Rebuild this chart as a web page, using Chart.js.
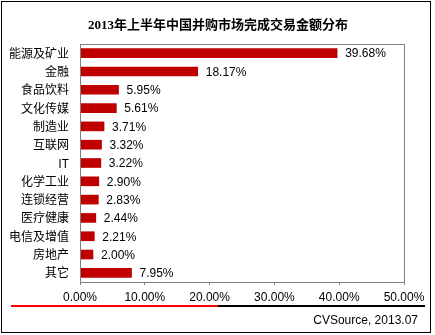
<!DOCTYPE html>
<html>
<head>
<meta charset="utf-8">
<script src="https://cdn.jsdelivr.net/npm/chart.js@4/dist/chart.umd.min.js"></script>
<style>
html,body{margin:0;padding:0;background:#fff;}
#wrap{width:435px;height:335px;position:relative;}
</style>
</head>
<body>
<div id="wrap"><canvas id="c" width="435" height="335"></canvas></div>
<script>
const titleText = '2013年上半年中国并购市场完成交易金额分布';
const sourceText = 'CVSource, 2013.07';
const categories = ['能源及矿业','金融','食品饮料','文化传媒','制造业','互联网','IT','化学工业','连锁经营','医疗健康','电信及增值','房地产','其它'];
const shares = [39.68, 18.17, 5.95, 5.61, 3.71, 3.32, 3.22, 2.90, 2.83, 2.44, 2.21, 2.00, 7.95];
const xTicks = [0, 10, 20, 30, 40, 50];

const latin = "'Liberation Sans', Arial, 'Noto Sans CJK SC', sans-serif";
const cjk = "'Noto Sans CJK SC', 'Liberation Sans', sans-serif";

const decor = {
  id: 'decor',
  beforeDraw(chart) {
    const ctx = chart.ctx;
    ctx.save();
    ctx.fillStyle = '#fff';
    ctx.fillRect(0, 0, chart.width, chart.height);
    ctx.restore();
  },
  afterDatasetsDraw(chart) {
    const ctx = chart.ctx;
    const a = chart.chartArea;
    ctx.save();
    // plot frame
    ctx.strokeStyle = '#808080';
    ctx.lineWidth = 1;
    ctx.strokeRect(Math.round(a.left) + 0.5, Math.round(a.top) + 0.5, Math.round(a.right - a.left), Math.round(a.bottom - a.top));
    // value labels
    const meta = chart.getDatasetMeta(0);
    ctx.fillStyle = '#000';
    ctx.font = '12px ' + latin;
    ctx.textAlign = 'left';
    ctx.textBaseline = 'middle';
    meta.data.forEach((bar, i) => {
      ctx.fillText(shares[i].toFixed(2) + '%', bar.x + 8, bar.y + 1);
    });
    // title
    ctx.font = "bold 13px 'Liberation Serif', 'Noto Sans CJK SC', serif";
    ctx.textAlign = 'center';
    ctx.fillText(titleText, 218, 26);
    // separator lines
    ctx.fillStyle = '#ff0000';
    ctx.fillRect(11, 305, 207, 2);
    ctx.fillStyle = '#000';
    ctx.fillRect(218, 305, 207, 2);
    // source
    ctx.font = '12px ' + latin;
    ctx.textAlign = 'right';
    ctx.fillText(sourceText, 418, 321);
    // outer border
    ctx.strokeStyle = '#000';
    ctx.strokeRect(1.5, 1.5, 429, 331);
    ctx.restore();
  }
};

new Chart(document.getElementById('c'), {
  type: 'bar',
  data: {
    labels: categories,
    datasets: [{
      data: shares,
      backgroundColor: '#C00000',
      borderWidth: 0,
      barThickness: 9
    }]
  },
  options: {
    indexAxis: 'y',
    responsive: false,
    animation: false,
    devicePixelRatio: 1,
    layout: { padding: { left: 0, top: 44, right: 31, bottom: 0 } },
    plugins: { legend: { display: false }, tooltip: { enabled: false }, title: { display: false } },
    scales: {
      x: {
        min: 0, max: 50,
        afterFit(s) { s.height = 53; },
        afterBuildTicks(s) { s.ticks = xTicks.map(v => ({ value: v })); },
        grid: { drawOnChartArea: false, drawTicks: true, tickLength: 3, color: '#808080' },
        border: { color: '#808080' },
        ticks: {
          padding: 5,
          color: '#000',
          font: { size: 12, family: latin },
          maxRotation: 0,
          callback: v => Number(v).toFixed(2) + '%'
        }
      },
      y: {
        afterFit(s) { s.width = 80; },
        grid: { display: false, drawTicks: false },
        border: { color: '#808080' },
        ticks: {
          padding: 11,
          color: '#000',
          font: { size: 12, family: cjk }
        }
      }
    }
  },
  plugins: [decor]
});
</script>
</body>
</html>
